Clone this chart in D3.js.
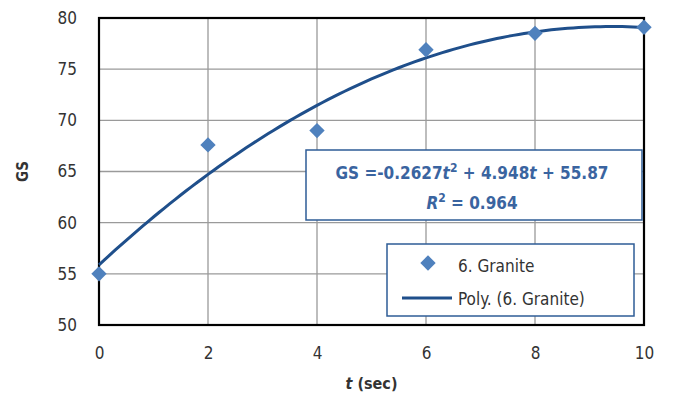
<!DOCTYPE html>
<html>
<head>
<meta charset="utf-8">
<script src="https://cdn.jsdelivr.net/npm/d3@7"></script>
<style>
  body { margin: 0; background: #fff; }
  text { font-family: "DejaVu Sans Condensed", "DejaVu Sans", sans-serif; }
</style>
</head>
<body>
<div id="chart"></div>
<script>
const times = [0, 2, 4, 6, 8, 10];
const gsValues = [55.0, 67.6, 69.0, 76.9, 78.5, 79.1];
const coeffs = [-0.2627, 4.948, 55.87];
const xTicks = [0, 2, 4, 6, 8, 10];
const yTicks = [50, 55, 60, 65, 70, 75, 80];

const width = 673, height = 399;
const margin = {top: 18, right: 29, bottom: 74, left: 99};

const svg = d3.select("#chart")
    .append("svg")
    .attr("width", width)
    .attr("height", height);

const x = d3.scaleLinear()
    .domain([0, 10])
    .range([margin.left, width - margin.right]);

const y = d3.scaleLinear()
    .domain([50, 80])
    .range([height - margin.bottom, margin.top]);

// gridlines
svg.append("g")
    .selectAll("line.v")
    .data(xTicks)
    .enter()
    .append("line")
    .attr("x1", d => x(d)).attr("x2", d => x(d))
    .attr("y1", y(80)).attr("y2", y(50))
    .attr("stroke", "#9a9a9a")
    .attr("stroke-width", 1.3);
svg.append("g")
    .selectAll("line.h")
    .data(yTicks)
    .enter()
    .append("line")
    .attr("x1", x(0)).attr("x2", x(10))
    .attr("y1", d => y(d)).attr("y2", d => y(d))
    .attr("stroke", "#9a9a9a")
    .attr("stroke-width", 1.3);

// plot border
svg.append("rect")
    .attr("x", x(0)).attr("y", y(80))
    .attr("width", x(10) - x(0))
    .attr("height", y(50) - y(80))
    .attr("fill", "none")
    .attr("stroke", "#000")
    .attr("stroke-width", 2.2);

// axes
const xAxis = svg.append("g")
    .attr("transform", `translate(0, ${y(50) + 22})`)
    .call(d3.axisBottom(x).tickValues(xTicks).tickSize(0).tickPadding(0));
const yAxis = svg.append("g")
    .attr("transform", `translate(${x(0) - 22}, 0)`)
    .call(d3.axisLeft(y).tickValues(yTicks).tickSize(0).tickPadding(0));
[xAxis, yAxis].forEach(g => {
    g.select(".domain").remove();
    g.selectAll("text")
        .attr("font-family", "DejaVu Sans Condensed, DejaVu Sans, sans-serif")
        .attr("font-size", 17)
        .attr("fill", "#333");
});

// axis titles
const xt = svg.append("text")
    .attr("x", (x(0) + x(10)) / 2)
    .attr("y", 389)
    .attr("text-anchor", "middle")
    .attr("font-size", 16)
    .attr("font-weight", "bold")
    .attr("fill", "#333");
xt.append("tspan").attr("font-style", "italic").text("t");
xt.append("tspan").text(" (sec)");

svg.append("text")
    .attr("transform", `translate(28, ${(y(50) + y(80)) / 2}) rotate(-90)`)
    .attr("text-anchor", "middle")
    .attr("font-size", 15)
    .attr("font-weight", "bold")
    .attr("fill", "#333")
    .text("GS");

// trend line
const poly = t => coeffs[0] * t * t + coeffs[1] * t + coeffs[2];
const curve = d3.range(0, 10.01, 0.1).map(t => [t, poly(t)]);
svg.append("path")
    .datum(curve)
    .attr("fill", "none")
    .attr("stroke", "#1f4f8b")
    .attr("stroke-width", 3)
    .attr("d", d3.line().x(d => x(d[0])).y(d => y(d[1])));

// markers
const diamond = d3.symbol().type(d3.symbolDiamond2).size(150);
svg.append("g")
    .selectAll("path")
    .data(times)
    .enter()
    .append("path")
    .attr("d", diamond)
    .attr("transform", (d, i) => `translate(${x(d)}, ${y(gsValues[i])})`)
    .attr("fill", "#4f81bd");

// equation box
const eqBox = svg.append("g");
eqBox.append("rect")
    .attr("x", 306).attr("y", 150)
    .attr("width", 336).attr("height", 70)
    .attr("fill", "#fff")
    .attr("stroke", "#2e5c96")
    .attr("stroke-width", 1.5);
const eq1 = eqBox.append("text")
    .attr("x", 472).attr("y", 179)
    .attr("text-anchor", "middle")
    .attr("font-size", 17)
    .attr("font-weight", 600)
    .attr("fill", "#3a64a0");
eq1.append("tspan").text("GS =-" + Math.abs(coeffs[0]));
eq1.append("tspan").attr("font-style", "italic").text("t");
eq1.append("tspan").attr("dy", -7).attr("font-size", 12).text("2");
eq1.append("tspan").attr("dy", 7).text(" + " + coeffs[1]);
eq1.append("tspan").attr("font-style", "italic").text("t");
eq1.append("tspan").text(" + " + coeffs[2]);
const eq2 = eqBox.append("text")
    .attr("x", 472).attr("y", 209)
    .attr("text-anchor", "middle")
    .attr("font-size", 17)
    .attr("font-weight", 600)
    .attr("fill", "#3a64a0");
eq2.append("tspan").attr("font-style", "italic").text("R");
eq2.append("tspan").attr("dy", -7).attr("font-size", 12).text("2");
eq2.append("tspan").attr("dy", 7).text(" = 0.964");

// legend
const legend = svg.append("g");
legend.append("rect")
    .attr("x", 387).attr("y", 244)
    .attr("width", 247).attr("height", 72)
    .attr("fill", "#fff")
    .attr("stroke", "#2e5c96")
    .attr("stroke-width", 1.5);
legend.append("path")
    .attr("d", diamond)
    .attr("transform", "translate(428, 263)")
    .attr("fill", "#4f81bd");
legend.append("line")
    .attr("x1", 402).attr("x2", 452)
    .attr("y1", 298).attr("y2", 298)
    .attr("stroke", "#1f4f8b")
    .attr("stroke-width", 3);
legend.append("text")
    .attr("x", 458).attr("y", 272)
    .attr("font-size", 17)
    .attr("fill", "#333")
    .text("6. Granite");
legend.append("text")
    .attr("x", 458).attr("y", 305)
    .attr("font-size", 17)
    .attr("fill", "#333")
    .text("Poly. (6. Granite)");
</script>
</body>
</html>
